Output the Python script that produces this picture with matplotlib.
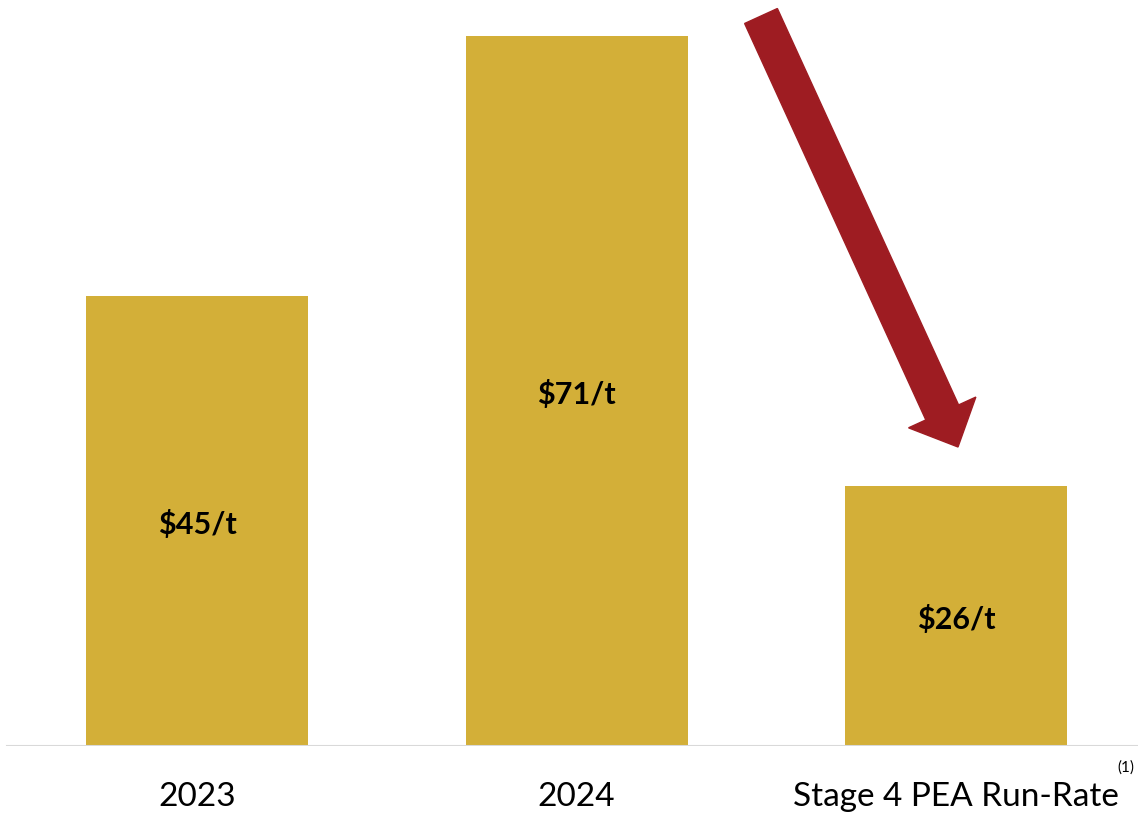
import matplotlib
matplotlib.use("Agg")
import matplotlib.pyplot as plt
from matplotlib.patches import Polygon
import numpy as np

categories = ["2023", "2024", "Stage 4 PEA Run-Rate"]
values = [45, 71, 26]
value_labels = ["$45/t", "$71/t", "$26/t"]
footnote = "(1)"

W, H = 1138, 813
fig = plt.figure(figsize=(W / 100, H / 100), dpi=100)
plt.rcParams['font.family'] = ['Lato', 'DejaVu Sans']

base_px = 746
ax = fig.add_axes([0, (H - base_px) / H, 1, base_px / H])
spacing = 379.5
x = np.arange(len(categories))
ax.set_xlim(-197 / spacing, 2 + (W - 956) / spacing)
ax.set_ylim(0, base_px / 10)
ax.axis('off')

bar_color = '#D3AF38'
bars = ax.bar(x, values, width=222 / spacing, color=bar_color, zorder=2)
ax.axhline(0, xmin=7 / W, xmax=1, color='#D9D9D9', lw=2.2, zorder=3)

for xi, v, lab in zip(x, values, value_labels):
    ax.text(xi, v / 2 - 0.3, lab, ha='center', va='center', fontsize=22,
            fontweight='bold', color='black', zorder=4)

trans = ax.get_xaxis_transform()
for xi, c in zip(x, categories):
    ax.text(xi, -(806 - base_px) / base_px, c, ha='center', va='baseline',
            fontsize=24, color='black', transform=trans)

fig.text(1126 / W, 1 - 768 / H, footnote, ha='center', va='center', fontsize=11)

# Arrow drawn in pixel space (annotation)
tail = np.array([761.0, 16.0])
tip = np.array([958.0, 447.0])
d = tip - tail
L = np.hypot(*d)
u = d / L
n = np.array([-u[1], u[0]])
shaft_w = 36
head_w = 74
head_l = 38
hb = tip - u * head_l
pts = [tail + n * shaft_w / 2, hb + n * shaft_w / 2, hb + n * head_w / 2, tip,
       hb - n * head_w / 2, hb - n * shaft_w / 2, tail - n * shaft_w / 2]
pts = [(p[0] / 100, (H - p[1]) / 100) for p in pts]
fig.patches.append(Polygon(pts, closed=True, color='#9E1C22',
                           transform=fig.dpi_scale_trans, figure=fig))

fig.savefig("out.png", dpi=100, facecolor='white')
